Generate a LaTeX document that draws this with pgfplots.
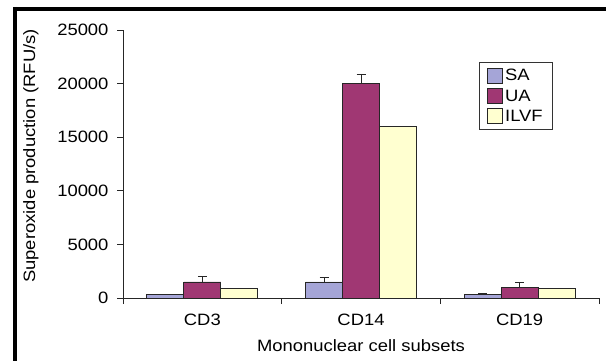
\documentclass[border=0pt]{standalone}
\usepackage{fontspec}
\setmainfont{Liberation Sans}[FakeStretch=1.12]
\usepackage{pgfplots}
\pgfplotsset{compat=1.18}
\definecolor{saC}{RGB}{165,165,215}
\definecolor{uaC}{RGB}{160,55,115}
\definecolor{ilC}{RGB}{255,255,208}
\begin{document}
\begin{tikzpicture}[x=1bp,y=1bp]
\useasboundingbox (0,0) rectangle (606,361);
\draw[line width=4bp] (13,352) -- (606,352);
\draw[line width=4bp] (15,354) -- (15,0);
\begin{axis}[
  at={(123bp,63bp)}, anchor=south west,
  scale only axis, width=476bp, height=268bp,
  xmin=-0.5, xmax=2.5, ymin=0, ymax=25000,
  axis lines=left, axis line style={-, line width=0.8bp, black!85},
  ybar, bar width=37bp,
  xtick={0,1,2}, xticklabels={CD3,CD14,CD19},
  minor xtick={-0.5,0.5,1.5,2.5},
  major x tick style={draw=none},
  minor x tick style={line width=0.8bp, black!85},
  y tick style={line width=0.8bp, black!85},
  minor tick length=6bp, major tick length=6bp,
  tick align=outside,
  ytick={0,5000,10000,15000,20000,25000},
  scaled y ticks=false,
  /pgf/number format/1000 sep={},
  /pgf/number format/assume math mode=true,
  tick label style={font=\fontsize{16.5}{19}\selectfont},
  xticklabel style={yshift=-6bp},
  yticklabel style={xshift=-5bp},
  xlabel={Mononuclear cell subsets},
  ylabel={Superoxide production (RFU/s)},
  label style={font=\fontsize{16.5}{19}\selectfont},
  xlabel style={yshift=-8bp},
  ylabel style={at={(ticklabel cs:0.53)}, yshift=12bp},
  error bars/error bar style={line width=0.9bp, black!85},
  error bars/error mark options={rotate=90, mark size=4.5bp, line width=0.9bp, black!85},
  legend style={at={(rel axis cs:0.748,0.881)}, anchor=north west,
    draw=black!80, line width=0.7bp, font=\fontsize{16.5}{19}\selectfont,
    inner xsep=8bp, inner ysep=5bp, row sep=3.5bp},
  legend cell align=left,
  legend image code/.code={\draw[#1,draw=black!85,line width=0.8bp] (-2bp,-7.5bp) rectangle (13bp,7.5bp);},
  clip=false,
]
\addplot[fill=saC, draw=black!85, line width=0.8bp, bar shift=-37bp,
  error bars/.cd, y dir=plus, y explicit]
  coordinates {(0,300) +- (0,0) (1,1500) +- (0,400) (2,300) +- (0,80)};
\addplot[fill=uaC, draw=black!85, line width=0.8bp, bar shift=0bp,
  error bars/.cd, y dir=plus, y explicit]
  coordinates {(0,1500) +- (0,500) (1,20000) +- (0,900) (2,1000) +- (0,480)};
\addplot[fill=ilC, draw=black!85, line width=0.8bp, bar shift=37bp]
  coordinates {(0,900) (1,16000) (2,850)};
\legend{SA,UA,ILVF}
\end{axis}
\end{tikzpicture}
\end{document}
